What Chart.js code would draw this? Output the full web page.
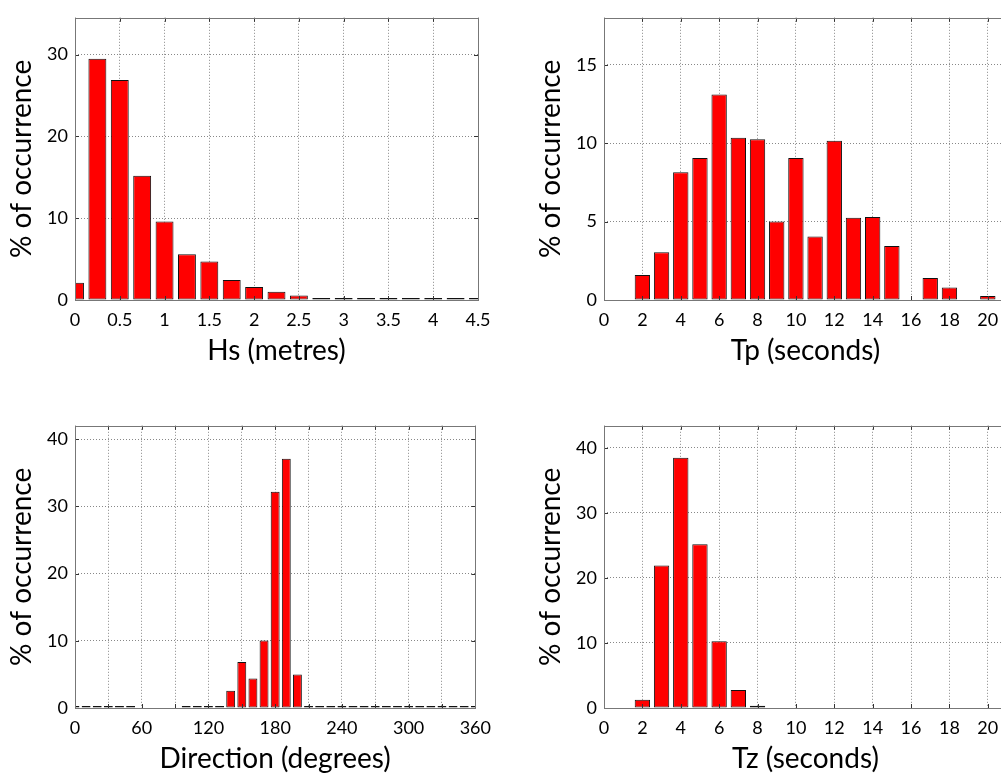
<!DOCTYPE html>
<html>
<head>
<meta charset="utf-8">
<script src="https://cdn.jsdelivr.net/npm/chart.js"></script>
<style>
  html, body { margin: 0; padding: 0; background: #fff; overflow: hidden; width: 1001px; height: 778px; }
  canvas { position: absolute; }
</style>
</head>
<body>
<canvas id="hsChart" width="500" height="380" style="left:0;top:0"></canvas>
<canvas id="tpChart" width="500" height="380" style="left:529px;top:0"></canvas>
<canvas id="dirChart" width="500" height="380" style="left:0;top:408px"></canvas>
<canvas id="tzChart" width="500" height="380" style="left:529px;top:408px"></canvas>
<script>
// Hs histogram (metres)
const hsBins = [0, 0.25, 0.5, 0.75, 1, 1.25, 1.5, 1.75, 2, 2.25, 2.5, 2.75, 3, 3.25, 3.5, 3.75, 4, 4.25, 4.5];
const hsPct = [2.1, 29.5, 26.9, 15.2, 9.6, 5.6, 4.7, 2.45, 1.6, 1.0, 0.55, 0.2, 0.03, 0.03, 0.03, 0.03, 0.03, 0.03, 0.03];

// Tp histogram (seconds)
const tpBins = [2, 3, 4, 5, 6, 7, 8, 9, 10, 11, 12, 13, 14, 15, 16, 17, 18, 19, 20];
const tpPct = [1.6, 3.05, 8.15, 9.05, 13.1, 10.35, 10.25, 5.0, 9.05, 4.05, 10.15, 5.25, 5.3, 3.45, null, 1.4, 0.8, null, 0.25];

// Direction histogram (degrees)
const dirBins = [0, 10, 20, 30, 40, 50, 60, 70, 80, 90, 100, 110, 120, 130, 140, 150, 160, 170, 180,
                 190, 200, 210, 220, 230, 240, 250, 260, 270, 280, 290, 300, 310, 320, 330, 340, 350, 360];
const dirPct = [0.03, 0.03, 0.03, 0.03, 0.03, 0.03, null, null, null, null, 0.03, 0.03, 0.03, 0.2, 2.55, 6.85, 4.4, 10.05, 32.2,
                37.1, 5.0, 0.03, 0.03, 0.03, 0.03, 0.03, 0.03, 0.03, 0.03, 0.03, 0.03, 0.03, 0.03, 0.03, 0.03, 0.03, 0.03];

// Tz histogram (seconds)
const tzBins = [2, 3, 4, 5, 6, 7, 8, 9];
const tzPct = [1.25, 21.9, 38.5, 25.2, 10.25, 2.75, 0.35, 0.08];

Chart.defaults.font.family = 'Lato, sans-serif';
Chart.defaults.color = '#000';
Chart.defaults.animation = false;

// box round the plot with small inward tick marks, like the original
const framePlugin = {
  id: 'frame',
  afterDraw(chart) {
    const { ctx, chartArea: a, scales } = chart;
    ctx.save();
    ctx.lineWidth = 1;
    ctx.strokeStyle = '#333';
    ctx.beginPath();
    scales.x.ticks.forEach(t => {
      const px = Math.round(scales.x.getPixelForValue(t.value)) + 0.5;
      ctx.moveTo(px, a.bottom); ctx.lineTo(px, a.bottom - 4);
      ctx.moveTo(px, a.top); ctx.lineTo(px, a.top + 4);
    });
    scales.y.ticks.forEach(t => {
      const py = Math.round(scales.y.getPixelForValue(t.value)) + 0.5;
      ctx.moveTo(a.left, py); ctx.lineTo(a.left + 4, py);
      ctx.moveTo(a.right, py); ctx.lineTo(a.right - 4, py);
    });
    ctx.stroke();
    ctx.strokeStyle = '#777';
    ctx.strokeRect(Math.round(a.left) + 0.5, Math.round(a.top) + 0.5,
                   Math.round(a.right - a.left), Math.round(a.bottom - a.top));
    ctx.restore();
  }
};

function makeChart(id, bins, pct, xMax, xStep, xTitle, yMax, yStep, labelEvery, minLen) {
  new Chart(document.getElementById(id), {
    type: 'bar',
    data: {
      datasets: [{
        data: bins.map((x, i) => ({ x: x, y: pct[i] })),
        backgroundColor: '#ff0000',
        borderColor: '#111',
        borderWidth: 1,
        borderSkipped: false,
        barPercentage: 0.8,
        categoryPercentage: 1,
        minBarLength: minLen
      }]
    },
    options: {
      responsive: false,
      layout: { padding: { top: 9, right: 22 } },
      plugins: { legend: { display: false }, tooltip: { enabled: false } },
      scales: {
        x: {
          type: 'linear',
          min: 0,
          max: xMax,
          offset: false,
          grid: { offset: false, color: '#888', drawTicks: false },
          border: { display: false, dash: [1, 2] },
          ticks: {
            stepSize: xStep,
            includeBounds: false,
            autoSkip: false,
            maxRotation: 0,
            padding: 9,
            font: { size: 18 },
            callback: v => (labelEvery && v % labelEvery !== 0) ? '' : v
          },
          title: { display: true, text: xTitle, font: { size: 28 }, padding: { bottom: 12 } },
          afterFit: s => { s.height = 80; }
        },
        y: {
          min: 0,
          max: yMax,
          grid: { color: '#888', drawTicks: false },
          border: { display: false, dash: [1, 2] },
          ticks: { stepSize: yStep, includeBounds: false, padding: 7, font: { size: 18 } },
          title: { display: true, text: '% of occurrence', font: { size: 28 }, padding: { top: 5 } },
          afterFit: s => { s.width = 75; }
        }
      }
    },
    plugins: [framePlugin]
  });
}

makeChart('hsChart', hsBins, hsPct, 4.5, 0.5, 'Hs (metres)', 34.5, 10, 0, 2);
makeChart('tpChart', tpBins, tpPct, 21, 2, 'Tp (seconds)', 18, 5, 0, 0);
makeChart('dirChart', dirBins, dirPct, 360, 30, 'Direction (degrees)', 42, 10, 60, 2);
makeChart('tzChart', tzBins, tzPct, 21, 2, 'Tz (seconds)', 43.4, 10, 0, 0);
</script>
</body>
</html>
